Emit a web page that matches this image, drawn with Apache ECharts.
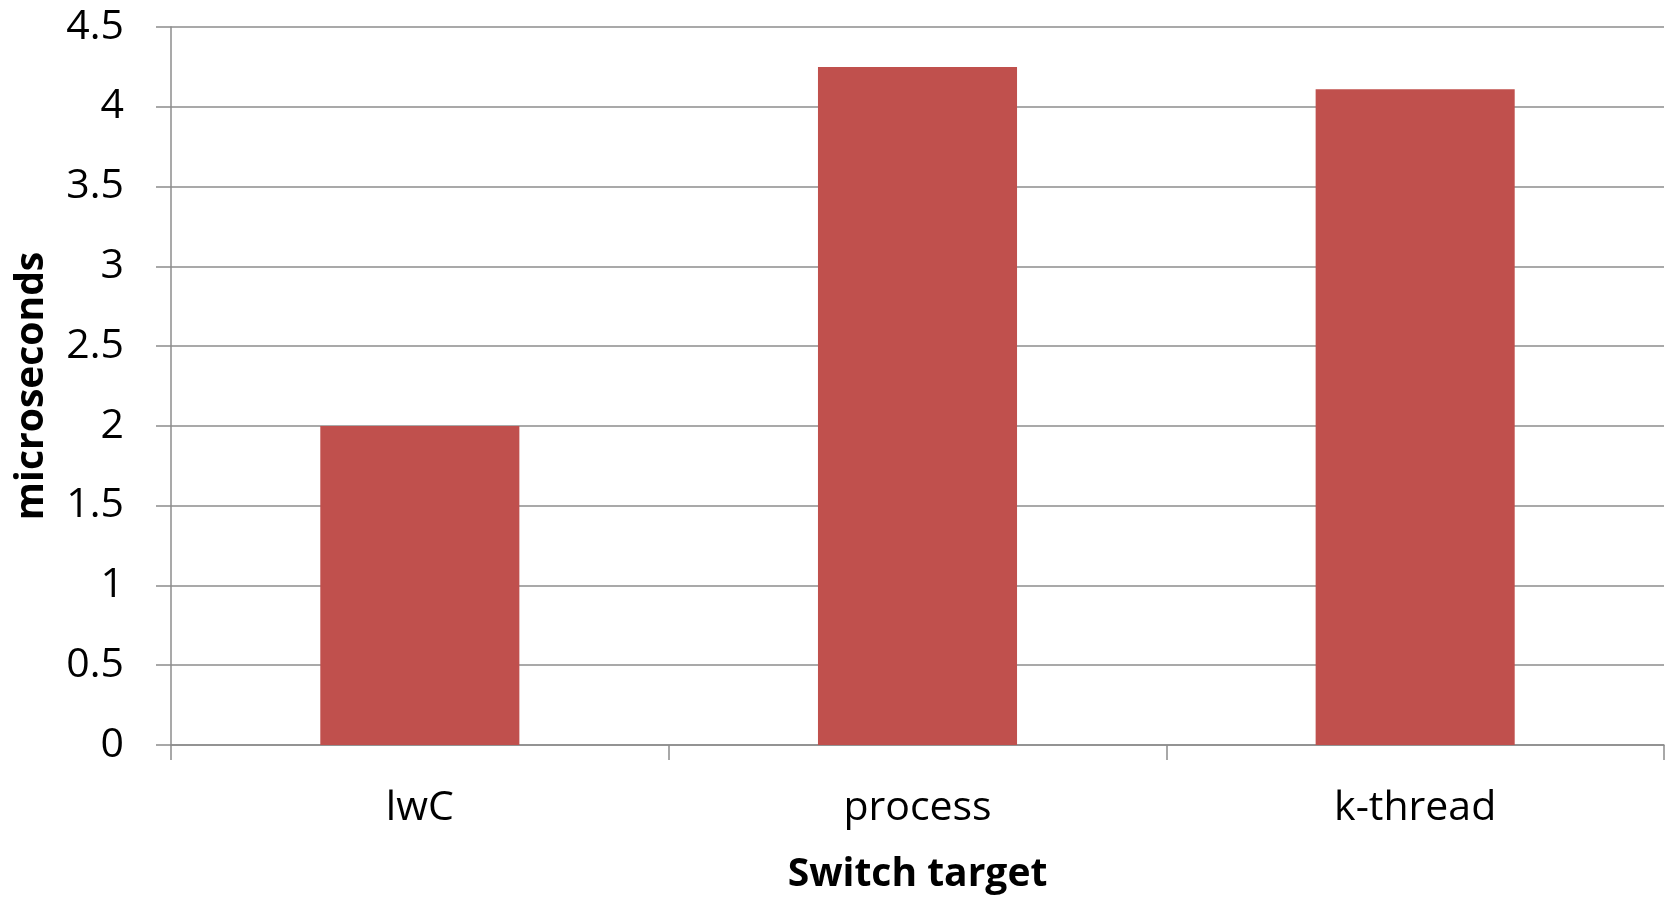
<!DOCTYPE html>
<html>
<head>
<meta charset="utf-8">
<title>Switch target cost</title>
<script src="https://cdn.jsdelivr.net/npm/echarts@6/dist/echarts.min.js"></script>
<style>
  html, body { margin: 0; padding: 0; background: #ffffff; }
  #chart { width: 1673px; height: 899px; }
</style>
</head>
<body>
<div id="chart"></div>
<script>
// Switch cost per target, in microseconds
const categories = ['lwC', 'process', 'k-thread'];
const microseconds = [2.0, 4.25, 4.11];
const yTicks = { min: 0, max: 4.5, step: 0.5 };

const FONT = '"Open Sans", "Liberation Sans", sans-serif';
const gridColor = '#8c8c8c';

const chart = echarts.init(document.getElementById('chart'), null, { renderer: 'canvas' });
chart.setOption({
  animation: false,
  backgroundColor: '#ffffff',
  grid: { left: 171, right: 9, top: 27, bottom: 153, containLabel: false },
  xAxis: {
    type: 'category',
    data: categories,
    name: 'Switch target',
    nameLocation: 'middle',
    nameGap: 110,
    nameTextStyle: { fontFamily: FONT, fontSize: 39, fontWeight: 'bold', color: '#000' },
    axisLine: { lineStyle: { color: gridColor, width: 1.5 } },
    axisTick: { show: true, length: 15, alignWithLabel: false, lineStyle: { color: gridColor, width: 1.5 } },
    axisLabel: { fontFamily: FONT, fontSize: 41, color: '#000', margin: 43 },
    splitLine: { show: false }
  },
  yAxis: {
    type: 'value',
    min: yTicks.min,
    max: yTicks.max,
    interval: yTicks.step,
    name: 'microseconds',
    nameLocation: 'middle',
    nameGap: 120,
    nameRotate: 90,
    nameTextStyle: { fontFamily: FONT, fontSize: 39, fontWeight: 'bold', color: '#000' },
    axisLine: { show: true, lineStyle: { color: gridColor, width: 1.5 } },
    axisTick: { show: true, length: 15, lineStyle: { color: gridColor, width: 1.5 } },
    axisLabel: { fontFamily: FONT, fontSize: 41, color: '#000', margin: 47 },
    splitLine: { show: true, lineStyle: { color: gridColor, width: 1.5 } }
  },
  series: [{
    type: 'bar',
    data: microseconds,
    barWidth: '40%',
    itemStyle: { color: '#c0504d' },
    z: 3
  }]
});
</script>
</body>
</html>
